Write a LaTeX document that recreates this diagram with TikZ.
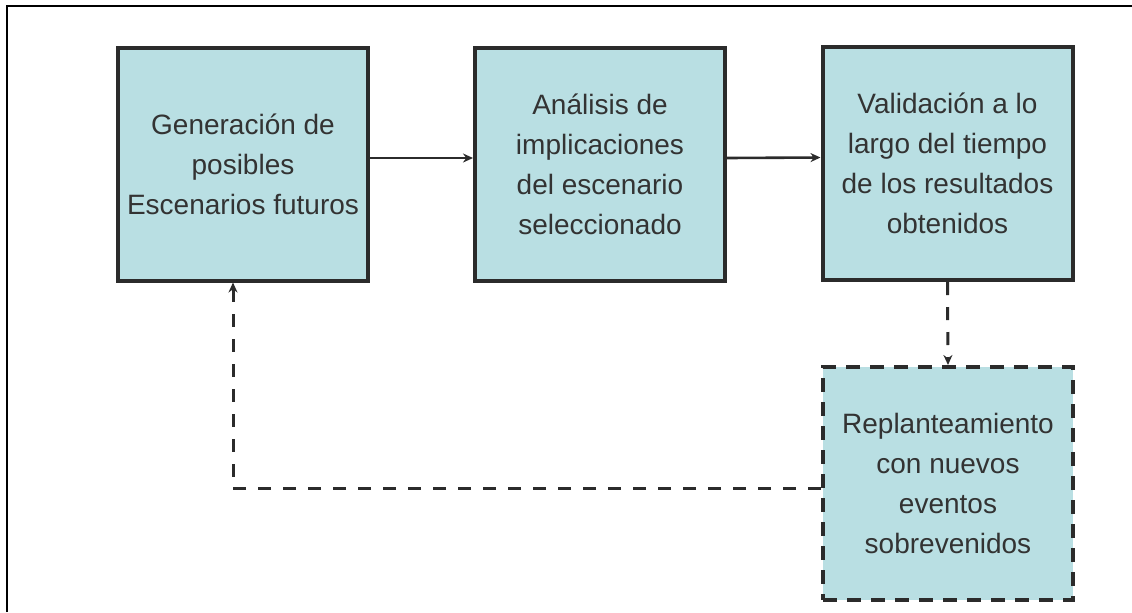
\documentclass[tikz,border=0pt]{standalone}
\usepackage{fontspec}
\setmainfont{Liberation Sans}
\usetikzlibrary{arrows.meta}
\definecolor{boxfill}{HTML}{B9DFE3}
\definecolor{boxline}{HTML}{2B2B2B}
\definecolor{txt}{HTML}{333333}
\begin{document}
\begin{tikzpicture}[x=0.5pt,y=-0.5pt,
  stagebox/.style={draw=boxline, line width=2pt, fill=boxfill, text=txt,
    align=center, inner sep=0pt, minimum width=125pt, minimum height=116.5pt,
    font=\fontsize{14}{20}\selectfont},
  dashbox/.style={stagebox, dash pattern=on 7pt off 5pt},
  arr/.style={draw=boxline, line width=1.3pt, -{Stealth[length=5pt,width=4.5pt]}},
  darr/.style={draw=boxline, line width=1.5pt, dash pattern=on 6.5pt off 6pt, -{Stealth[length=5pt,width=4.5pt]}}
]
\useasboundingbox (0,0) rectangle (1132,612);
\draw[line width=1pt, black] (7,612) -- (7,5.5) -- (1132,5.5);
\node[stagebox] (b1) at (243,164) {Generación de\\posibles\\Escenarios futuros};
\node[stagebox] (b2) at (600,164) {Análisis de\\implicaciones\\del escenario\\seleccionado};
\node[stagebox] (b3) at (947.5,163.5) {Validación a lo\\largo del tiempo\\de los resultados\\obtenidos};
\node[dashbox] (b4) at (948,483.5) {Replanteamiento\\con nuevos\\eventos\\sobrevenidos};
\draw[arr] ([yshift=3pt]b1.east) -- ([yshift=3pt]b2.west);
\draw[arr] ([yshift=3pt]b2.east) -- ([yshift=3pt]b3.west);
\draw[darr] (b3.south) -- (b4.north);
\draw[darr] ([yshift=-2.5pt]b4.west) -| ([xshift=-5pt]b1.south);
\end{tikzpicture}
\end{document}
